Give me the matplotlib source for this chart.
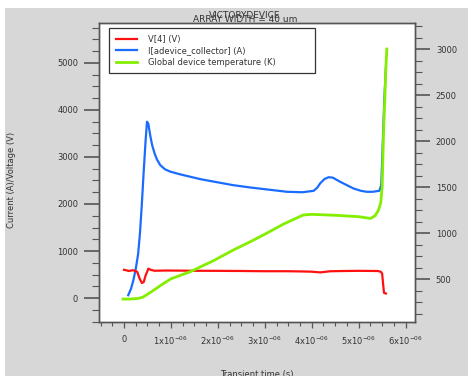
import matplotlib
matplotlib.use("Agg")
import matplotlib.pyplot as plt
from matplotlib.patches import Rectangle
from matplotlib.ticker import MultipleLocator, FuncFormatter
import numpy as np

# collector current I[adevice_collector] (A) vs time (us)
t_current = [0.09, 0.15, 0.20, 0.25, 0.30, 0.34, 0.38, 0.42, 0.46, 0.49, 0.52, 0.56,
             0.60, 0.65, 0.70, 0.77, 0.87, 0.98, 1.20, 1.62, 2.00, 2.33, 2.70, 3.04,
             3.30, 3.47, 3.80, 4.04, 4.12, 4.18, 4.27, 4.36, 4.45, 4.60, 4.75, 4.89,
             5.05, 5.17, 5.30, 5.44, 5.48, 5.50, 5.52, 5.55, 5.58]
current = [60, 200, 380, 620, 930, 1380, 2000, 2700, 3350, 3750, 3700, 3450,
           3250, 3080, 2950, 2830, 2740, 2690, 2630, 2530, 2460, 2400, 2350, 2310,
           2280, 2260, 2250, 2280, 2350, 2440, 2530, 2570, 2560, 2475, 2400, 2330,
           2280, 2260, 2260, 2280, 2400, 2900, 3500, 4300, 4900]

# node voltage V[4] (V)
t_voltage = [0.00, 0.05, 0.10, 0.15, 0.20, 0.25, 0.28, 0.33, 0.38, 0.42, 0.46, 0.52,
             0.57, 0.65, 0.90, 1.50, 2.00, 2.50, 3.00, 3.50, 3.80, 4.00, 4.18, 4.40,
             4.70, 5.00, 5.40, 5.47, 5.50, 5.52, 5.54, 5.58]
voltage = [600, 590, 575, 585, 590, 570, 560, 420, 320, 340, 480, 625,
           600, 580, 585, 580, 578, 575, 570, 570, 565, 560, 545, 570,
           575, 578, 575, 560, 520, 300, 110, 95]

# global device temperature (K)
t_temp = [-0.02, 0.10, 0.20, 0.30, 0.40, 0.60, 0.80, 1.00, 1.41, 1.90, 2.33, 2.70,
          3.04, 3.40, 3.82, 4.00, 4.50, 5.00, 5.25, 5.35, 5.42, 5.47, 5.50, 5.53,
          5.56, 5.58, 5.60]
temperature = [285, 285, 288, 292, 305, 370, 440, 505, 582, 700, 818, 910,
               1000, 1100, 1198, 1205, 1195, 1180, 1160, 1190, 1250, 1330, 1500, 2085,
               2500, 2800, 3000]

text_col = "#333333"
spine_col = "#555555"

fig = plt.figure(figsize=(4.68, 3.76), dpi=100)
fig.patch.set_facecolor("white")
fig.patches.append(Rectangle((5 / 468, 0), 1, 1 - 8 / 376, transform=fig.transFigure,
                             facecolor="#d7d7d7", edgecolor="none", zorder=-10))

ax = fig.add_axes([99 / 468, 1 - 322 / 376, 316 / 468, 299 / 376])
ax.set_facecolor("white")
ax2 = ax.twinx()

l1, = ax.plot(np.array(t_voltage) * 1e-6, voltage, color="#ff1010", lw=1.6,
              label="V[4] (V)", zorder=3)
l2, = ax.plot(np.array(t_current) * 1e-6, current, color="#1a6cff", lw=1.6,
              label="I[adevice_collector] (A)", zorder=2)
l3, = ax2.plot(np.array(t_temp) * 1e-6, temperature, color="#84ee00", lw=2.0,
               label="Global device temperature (K)")

ax.set_xlim(-0.533e-6, 6.2e-6)
ax.set_ylim(-510, 5850)
ax2.set_ylim(36, 3283)

ax.xaxis.set_major_locator(MultipleLocator(1e-6))
ax.xaxis.set_minor_locator(MultipleLocator(0.25e-6))


def fmt_time(v, pos):
    n = int(round(v * 1e6))
    if n == 0:
        return "0"
    return r"%dx10$^{-06}$" % n


ax.xaxis.set_major_formatter(FuncFormatter(fmt_time))
ax.yaxis.set_major_locator(MultipleLocator(1000))
ax.yaxis.set_minor_locator(MultipleLocator(250))
ax2.yaxis.set_major_locator(MultipleLocator(500))
ax2.yaxis.set_minor_locator(MultipleLocator(125))

for a in (ax, ax2):
    for s in a.spines.values():
        s.set_color(spine_col)
        s.set_linewidth(1.0)
ax.tick_params(axis="y", which="major", direction="out", length=11, width=1.2,
               color=spine_col, labelsize=6, labelcolor=text_col, pad=4)
ax.tick_params(axis="y", which="minor", direction="out", length=5, width=0.8,
               color=spine_col)
ax.tick_params(axis="x", which="major", direction="out", length=4, width=0.9,
               color=spine_col, labelsize=6, labelcolor=text_col, pad=5)
ax.tick_params(axis="x", which="minor", direction="out", length=3, width=0.8,
               color=spine_col)
ax2.tick_params(axis="y", which="major", direction="out", length=11, width=1.2,
                color=spine_col, labelsize=6, labelcolor=text_col, pad=4)
ax2.tick_params(axis="y", which="minor", direction="out", length=5, width=0.8,
                color=spine_col)

leg = ax2.legend(handles=[l1, l2, l3], loc="upper left",
                 bbox_to_anchor=(0.0316, 0.833, 0.652, 0.15), mode="expand",
                 borderaxespad=0, fontsize=6, handlelength=2.6, handletextpad=1.3,
                 labelspacing=0.3, borderpad=0.8, fancybox=False, framealpha=1,
                 edgecolor="#333333")
leg.get_frame().set_linewidth(0.9)
for txt in leg.get_texts():
    txt.set_color(text_col)

fig.text(245 / 468, 1 - 15 / 376, "VICTORYDEVICE", ha="center", va="center",
         fontsize=6.5, color=text_col)
fig.text(245 / 468, 1 - 20 / 376, "ARRAY WIDTH = 40 um", ha="center", va="center",
         fontsize=6.5, color=text_col)
fig.text(12 / 468, 1 - 180 / 376, "Current (A)/Voltage (V)", rotation=90,
         ha="center", va="center", fontsize=6, color=text_col)
fig.text(257 / 468, 1 - 370 / 376, "Transient time (s)", ha="center", va="top",
         fontsize=6, color=text_col)

fig.savefig("out.png", dpi=100)
